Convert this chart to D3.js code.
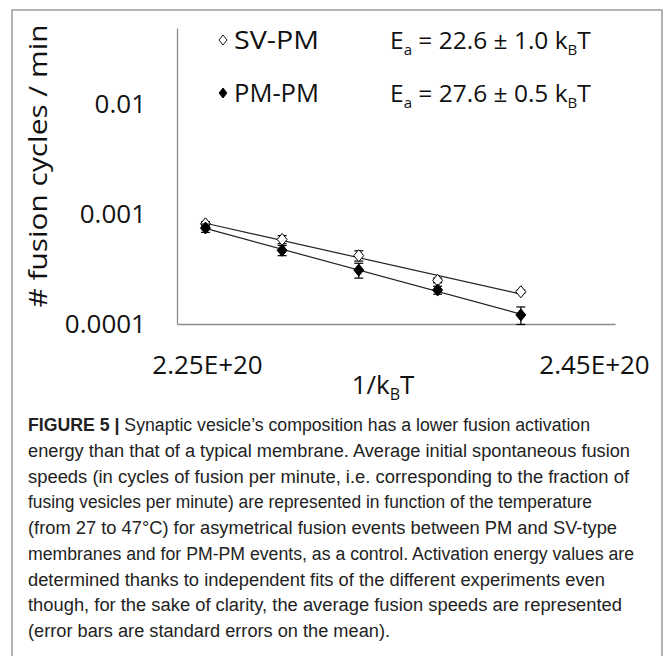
<!DOCTYPE html>
<html><head><meta charset="utf-8">
<script src="https://cdn.jsdelivr.net/npm/d3@7"></script>
<style>body{margin:0;background:#fff}svg{display:block}</style>
</head><body>
<script>
// ---- data ----
const invKT = [2.263e20, 2.298e20, 2.333e20, 2.369e20, 2.407e20];
const svPM = [8.2e-4, 5.9e-4, 4.2e-4, 2.5e-4, 1.97e-4];
const svPMErr = [0.35e-4, 0.5e-4, 0.45e-4, 0.12e-4, 0.06e-4];
const pmPM = [7.5e-4, 4.7e-4, 3.1e-4, 2.04e-4, 1.21e-4];
const pmPMErr = [0.65e-4, 0.5e-4, 0.48e-4, 0.17e-4, 0.22e-4];
const yTicks = [1e-4, 1e-3, 1e-2];
const yTickLabels = ["0.0001", "0.001", "0.01"];
const xTicks = [2.25e20, 2.45e20];
const xTickLabels = ["2.25E+20", "2.45E+20"];
const seriesNames = ["SV-PM", "PM-PM"];
const energies = ["22.6 ± 1.0", "27.6 ± 0.5"];
const captionLines = [
  "Synaptic vesicle’s composition has a lower fusion activation",
  "energy than that of a typical membrane. Average initial spontaneous fusion",
  "speeds (in cycles of fusion per minute, i.e. corresponding to the fraction of",
  "fusing vesicles per minute) are represented in function of the temperature",
  "(from 27 to 47°C) for asymetrical fusion events between PM and SV-type",
  "membranes and for PM-PM events, as a control. Activation energy values are",
  "determined thanks to independent fits of the different experiments even",
  "though, for the sake of clarity, the average fusion speeds are represented",
  "(error bars are standard errors on the mean)."
];
const captionWidths = [562, 602, 601, 564, 589, 606, 577, 594, 362];

// ---- layout ----
const W = 666, H = 656;
const svg = d3.select("body").append("svg").attr("width", W).attr("height", H);
const FONT = "'Open Sans', 'DejaVu Sans', sans-serif";

svg.append("rect").attr("x", 12).attr("y", 10).attr("width", 650).attr("height", 720)
  .attr("fill", "none").attr("stroke", "#9a9a9a").attr("stroke-width", 1.5);

const x = d3.scaleLinear().domain([2.25e20, 2.45e20]).range([177, 615]);
const y = d3.scaleLog().domain([1e-4, 0.05]).range([324, 28]);

// axes
const yAxis = svg.append("g").attr("transform", "translate(177,0)")
  .call(d3.axisLeft(y).tickValues(yTicks).tickSize(0).tickPadding(31)
    .tickFormat((d, i) => yTickLabels[i]));
yAxis.select(".domain").attr("stroke", "#8c8c8c").attr("stroke-width", 1.3);
yAxis.selectAll("text").attr("font-family", FONT).attr("font-size", 26).attr("fill", "#111");

const xAxis = svg.append("g").attr("transform", "translate(0,324)")
  .call(d3.axisBottom(x).tickValues(xTicks).tickSize(0).tickPadding(32)
    .tickFormat((d, i) => xTickLabels[i]));
xAxis.select(".domain").attr("stroke", "#8c8c8c").attr("stroke-width", 1.3);
xAxis.selectAll("text").attr("font-family", FONT).attr("font-size", 26).attr("fill", "#111")
  .attr("dx", (d, i) => i === 0 ? 30 : -21);

// axis titles
svg.append("text").attr("transform", "translate(47,166) rotate(-90)")
  .attr("text-anchor", "middle").attr("font-family", FONT).attr("font-size", 26).attr("fill", "#111")
  .attr("textLength", 283).attr("lengthAdjust", "spacingAndGlyphs")
  .text("# fusion cycles / min");
const xt = svg.append("text").attr("x", 383).attr("y", 394).attr("text-anchor", "middle")
  .attr("font-family", FONT).attr("font-size", 26).attr("fill", "#111");
xt.append("tspan").text("1/k");
xt.append("tspan").attr("font-size", 16).attr("dy", 6).text("B");
xt.append("tspan").attr("dy", -6).text("T");

// series
const series = [
  {name: seriesNames[0], vals: svPM, errs: svPMErr, fill: "#fff"},
  {name: seriesNames[1], vals: pmPM, errs: pmPMErr, fill: "#000"}
];
const diamond = "M0,-6L5,0L0,6L-5,0Z";

series.forEach(s => {
  // exponential trend line (linear fit of log10 values)
  const xs = invKT, ls = s.vals.map(v => Math.log10(v));
  const mx = d3.mean(xs), ml = d3.mean(ls);
  const b = d3.sum(xs.map((xv, i) => (xv - mx) * (ls[i] - ml))) / d3.sum(xs.map(xv => (xv - mx) ** 2));
  const a = ml - b * mx;
  const ends = [d3.min(xs), d3.max(xs)];
  svg.append("path")
    .attr("d", d3.line().x(d => x(d)).y(d => y(Math.pow(10, a + b * d)))(ends))
    .attr("stroke", "#222").attr("stroke-width", 1.2).attr("fill", "none");
});

series.forEach(s => {
  const g = svg.append("g");
  s.vals.forEach((v, i) => {
    const cx = x(invKT[i]);
    const y1 = y(v + s.errs[i]), y2 = y(v - s.errs[i]);
    g.append("line").attr("x1", cx).attr("x2", cx).attr("y1", y1).attr("y2", y2).attr("stroke", "#000").attr("stroke-width", 1.2);
    [y1, y2].forEach(yy => g.append("line").attr("x1", cx - 4.5).attr("x2", cx + 4.5).attr("y1", yy).attr("y2", yy).attr("stroke", "#000").attr("stroke-width", 1.2));
    g.append("path").attr("d", diamond).attr("transform", `translate(${cx},${y(v)})`)
      .attr("fill", s.fill).attr("stroke", "#000").attr("stroke-width", 1);
  });
});

// legend
series.forEach((s, i) => {
  const cy = 40 + i * 53;
  svg.append("path").attr("d", "M0,-5L4,0L0,5L-4,0Z").attr("transform", `translate(223,${cy})`)
    .attr("fill", s.fill).attr("stroke", "#000").attr("stroke-width", 0.9);
  svg.append("text").attr("x", 234).attr("y", cy + 9).attr("font-family", FONT).attr("font-size", 26)
    .attr("fill", "#111").attr("textLength", 85).attr("lengthAdjust", "spacingAndGlyphs").text(s.name);
  const t = svg.append("text").attr("x", 390).attr("y", cy + 9).attr("font-family", FONT)
    .attr("font-size", 24.5).attr("fill", "#111");
  t.append("tspan").text("E");
  t.append("tspan").attr("font-size", 15).attr("dy", 6).text("a");
  t.append("tspan").attr("dy", -6).text(" = " + energies[i] + " k");
  t.append("tspan").attr("font-size", 15).attr("dy", 6).text("B");
  t.append("tspan").attr("dy", -6).text("T");
});

// caption
const CF = "'Liberation Sans Narrow', 'Liberation Sans', Arial, sans-serif";
captionLines.forEach((line, i) => {
  const t = svg.append("text").attr("x", 28).attr("y", 431 + i * 25.75)
    .attr("font-family", CF).attr("font-size", 17.6).attr("fill", "#222")
    .attr("textLength", captionWidths[i]).attr("lengthAdjust", "spacingAndGlyphs");
  if (i === 0) {
    t.append("tspan").attr("font-weight", "bold").text("FIGURE 5 | ");
  }
  t.append("tspan").text(line);
});
</script>
</body></html>
